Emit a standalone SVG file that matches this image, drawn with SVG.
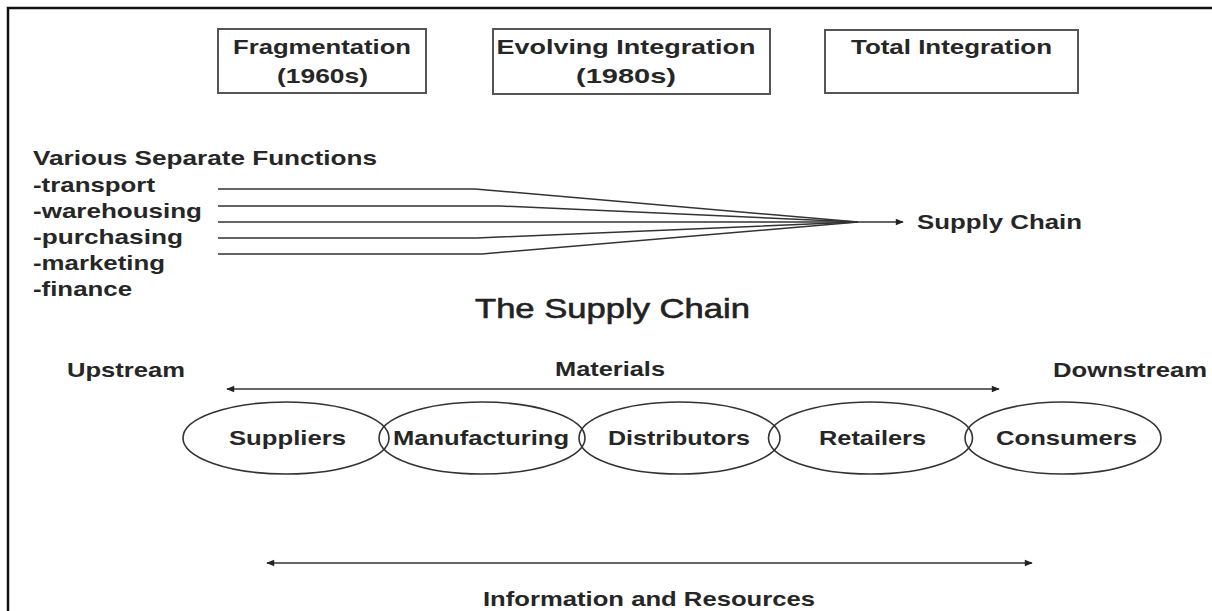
<svg xmlns="http://www.w3.org/2000/svg" width="1212" height="611" viewBox="0 0 1212 611">
<style>
text{font-family:"Liberation Sans",Arial,sans-serif;font-weight:bold;font-size:21px;fill:#262626}
.box{fill:#fff;stroke:#555;stroke-width:2}
.ell{fill:none;stroke:#333;stroke-width:1.6}
.ln{fill:none;stroke:#333;stroke-width:1.5}
.title{font-weight:normal;font-size:28px;fill:#222;stroke:#222;stroke-width:0.6}
</style>
<defs>
<marker id="ah" viewBox="0 0 10 10" refX="9" refY="5" markerWidth="9" markerHeight="8" markerUnits="userSpaceOnUse" orient="auto-start-reverse">
<path d="M0,1 L10,5 L0,9 Z" fill="#222"/>
</marker>
</defs>
<rect width="1212" height="611" fill="#fff"/>
<path d="M8,611 V8 H1212" fill="none" stroke="#111" stroke-width="2.5"/>

<g id="box-fragmentation">
<rect class="box" x="218" y="29" width="208" height="64"/>
<text x="322" y="54" text-anchor="middle" textLength="178" lengthAdjust="spacingAndGlyphs">Fragmentation</text>
<text x="322.5" y="83" text-anchor="middle" textLength="91" lengthAdjust="spacingAndGlyphs">(1960s)</text>
</g>
<g id="box-evolving">
<rect class="box" x="493" y="29" width="277" height="65"/>
<text x="626" y="54" text-anchor="middle" textLength="259" lengthAdjust="spacingAndGlyphs">Evolving Integration</text>
<text x="626" y="83" text-anchor="middle" textLength="100" lengthAdjust="spacingAndGlyphs">(1980s)</text>
</g>
<g id="box-total">
<rect class="box" x="825" y="30" width="253" height="63"/>
<text x="951.5" y="54" text-anchor="middle" textLength="201" lengthAdjust="spacingAndGlyphs">Total Integration</text>
</g>

<g id="functions">
<text x="33" y="165" textLength="344" lengthAdjust="spacingAndGlyphs">Various Separate Functions</text>
<text x="33" y="192" textLength="122" lengthAdjust="spacingAndGlyphs">-transport</text>
<text x="33" y="218" textLength="169" lengthAdjust="spacingAndGlyphs">-warehousing</text>
<text x="33" y="244" textLength="150" lengthAdjust="spacingAndGlyphs">-purchasing</text>
<text x="33" y="270" textLength="132" lengthAdjust="spacingAndGlyphs">-marketing</text>
<text x="33" y="296" textLength="99" lengthAdjust="spacingAndGlyphs">-finance</text>
</g>

<g id="supply-chain-label">
<text x="917" y="229" textLength="165" lengthAdjust="spacingAndGlyphs">Supply Chain</text>
</g>

<g id="title">
<text class="title" x="475" y="318" textLength="275" lengthAdjust="spacingAndGlyphs">The Supply Chain</text>
</g>

<g id="labels">
<text x="67" y="377" textLength="118" lengthAdjust="spacingAndGlyphs">Upstream</text>
<text x="555" y="376" textLength="110" lengthAdjust="spacingAndGlyphs">Materials</text>
<text x="1053" y="377" textLength="154" lengthAdjust="spacingAndGlyphs">Downstream</text>
<text x="483" y="606" textLength="332" lengthAdjust="spacingAndGlyphs">Information and Resources</text>
</g>

<g id="node-suppliers">
<ellipse class="ell" cx="286" cy="438" rx="103" ry="36"/>
<text x="287.5" y="445" text-anchor="middle" textLength="117" lengthAdjust="spacingAndGlyphs">Suppliers</text>
</g>
<g id="node-manufacturing">
<ellipse class="ell" cx="482" cy="438" rx="103" ry="36"/>
<text x="481" y="445" text-anchor="middle" textLength="176" lengthAdjust="spacingAndGlyphs">Manufacturing</text>
</g>
<g id="node-distributors">
<ellipse class="ell" cx="679.5" cy="438" rx="100.5" ry="36"/>
<text x="679" y="445" text-anchor="middle" textLength="142" lengthAdjust="spacingAndGlyphs">Distributors</text>
</g>
<g id="node-retailers">
<ellipse class="ell" cx="870.5" cy="438" rx="102" ry="36"/>
<text x="872.5" y="445" text-anchor="middle" textLength="107" lengthAdjust="spacingAndGlyphs">Retailers</text>
</g>
<g id="node-consumers">
<ellipse class="ell" cx="1063" cy="438" rx="98" ry="36"/>
<text x="1066.5" y="445" text-anchor="middle" textLength="141" lengthAdjust="spacingAndGlyphs">Consumers</text>
</g>

<g id="connectors">
<polyline class="ln" points="218,189 475,189 858,222"/>
<polyline class="ln" points="218,206 500,206 858,222"/>
<line class="ln" x1="218" y1="222" x2="903" y2="222" marker-end="url(#ah)"/>
<polyline class="ln" points="218,238 477,238 858,222"/>
<polyline class="ln" points="218,254 482,254 858,222"/>
<line class="ln" x1="227" y1="389" x2="999" y2="389" marker-start="url(#ah)" marker-end="url(#ah)"/>
<line class="ln" x1="267" y1="563" x2="1032" y2="563" stroke-width="2" marker-start="url(#ah)" marker-end="url(#ah)"/>
</g>
</svg>
